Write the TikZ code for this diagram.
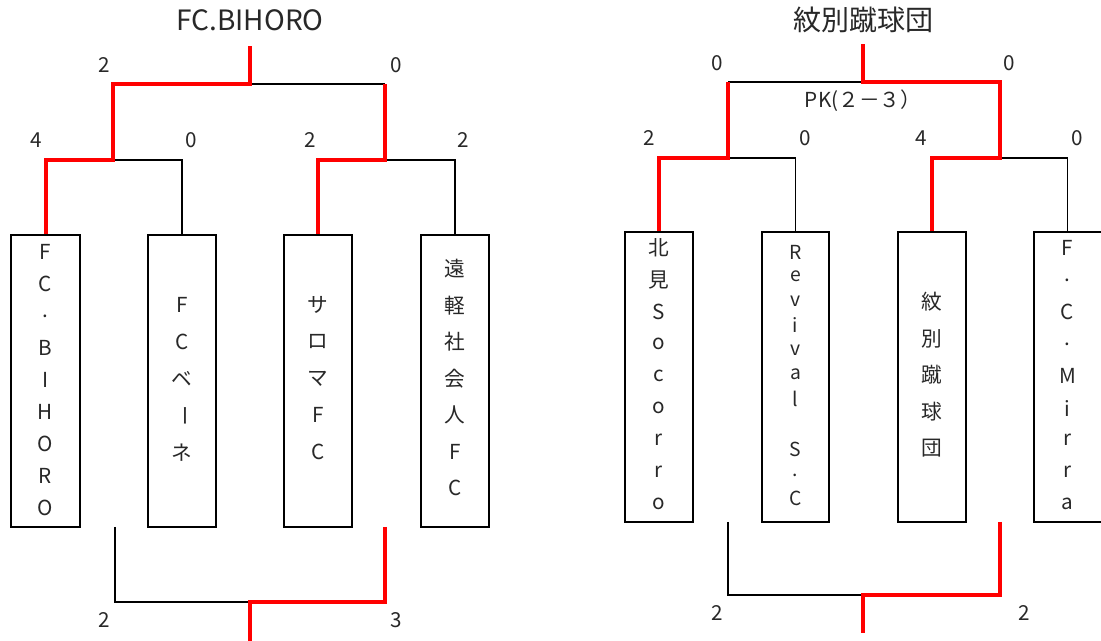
\documentclass[tikz,border=0pt]{standalone}
\usepackage{fontspec}
\setmainfont{Noto Sans CJK JP}
\definecolor{txt}{RGB}{40,40,40}
\definecolor{win}{RGB}{255,0,0}
\begin{document}
\begin{tikzpicture}[x=0.75pt,y=-0.75pt,
  teambox/.style={draw=black,line width=1.5pt,inner sep=0pt,fill=white},
  ch/.style={inner sep=0pt,text=txt,font=\fontsize{15.5}{17}\selectfont},
  chs/.style={inner sep=0pt,text=txt,font=\fontsize{14.5}{16}\selectfont},
  score/.style={inner sep=0pt,text=txt,font=\fontsize{15.5}{17}\selectfont},
  ttl/.style={inner sep=0pt,text=txt,font=\fontsize{21}{25}\selectfont},
  lose/.style={draw=black,line width=1.3pt},
  winline/.style={draw=win,line width=3pt}]
\useasboundingbox (0,0) rectangle (1101,641);
\fill[white] (0,0) rectangle (1101,641);

% ---------- left bracket coordinates
\coordinate (Ltop) at (250,46);
\coordinate (LtopJ) at (250,84);
\coordinate (LA) at (113,84);
\coordinate (LB) at (385,84);
\coordinate (LAj) at (113,160);
\coordinate (LBj) at (385,160);
\coordinate (L1) at (45.5,160);
\coordinate (L2) at (182,160);
\coordinate (L3) at (318,160);
\coordinate (L4) at (455,160);
\coordinate (LbA) at (115,527);
\coordinate (LbAc) at (115,602);
\coordinate (LbB) at (385,527);
\coordinate (LbBc) at (385,602);
\coordinate (LbJ) at (250,602);
\coordinate (LbEnd) at (250,641);

% ---------- left boxes
\node[teambox,minimum width=69*0.75pt,minimum height=292*0.75pt] (b1) at (45.5,381) {};
\node[teambox,minimum width=68*0.75pt,minimum height=292*0.75pt] (b2) at (182,381) {};
\node[teambox,minimum width=68*0.75pt,minimum height=292*0.75pt] (b3) at (318,381) {};
\node[teambox,minimum width=68*0.75pt,minimum height=292*0.75pt] (b4) at (455,381) {};

\foreach \c [count=\i from 0] in {F,C,.,B,I,H,O,R,O}
  \node[ch] (b1c\i) at (45.5,252+\i*32) {\c};
\foreach \c [count=\i from 0] in {F,C,ベ,{\rotatebox{-90}{ー}},ネ}
  \node[ch] (b2c\i) at (182,305+\i*36.8) {\c};
\foreach \c [count=\i from 0] in {サ,ロ,マ,F,C}
  \node[ch] (b3c\i) at (318,305+\i*36.8) {\c};
\foreach \c [count=\i from 0] in {遠,軽,社,会,人,F,C}
  \node[ch] (b4c\i) at (455,269+\i*36.5) {\c};

% left lines
\draw[lose] (LAj) -- (L2) -- (b2.north);
\draw[lose] (LBj) -- (L4) -- (b4.north);
\draw[lose] (LtopJ) -- (LB);
\draw[winline] (b1.north) -- (L1) -- (LAj) -- (LA) -- (LtopJ) -- (Ltop);
\draw[winline] (b3.north) -- (L3) -- (LBj) -- (LB);
\draw[lose] (LbA) -- (LbAc) -- (LbJ);
\draw[winline] (LbB) -- (LbBc) -- (LbJ) -- (LbEnd);

% left texts
\node[ttl] (t1) at (250,20) {FC.BIHORO};
\node[score] (s1) at (104,65) {2};
\node[score] (s2) at (396,65) {0};
\node[score] (s3) at (36,140) {4};
\node[score] (s4) at (191,140) {0};
\node[score] (s5) at (310,140) {2};
\node[score] (s6) at (463,140) {2};
\node[score] (s7) at (104,620) {2};
\node[score] (s8) at (396,620) {3};

% ---------- right bracket coordinates
\coordinate (Rtop) at (863,44);
\coordinate (RtopJ) at (863,82);
\coordinate (RA) at (728,82);
\coordinate (RB) at (1000,82);
\coordinate (RAj) at (728,158);
\coordinate (RBj) at (1000,158);
\coordinate (R1) at (659,158);
\coordinate (R2) at (795.5,158);
\coordinate (R3) at (932,158);
\coordinate (R4) at (1067.5,158);
\coordinate (RbA) at (728,522);
\coordinate (RbAc) at (728,595);
\coordinate (RbB) at (1000,522);
\coordinate (RbBc) at (1000,595);
\coordinate (RbJ) at (863,595);
\coordinate (RbEnd) at (863,633);

\node[teambox,minimum width=68*0.75pt,minimum height=290*0.75pt] (b5) at (659,377) {};
\node[teambox,minimum width=67*0.75pt,minimum height=290*0.75pt] (b6) at (795.5,377) {};
\node[teambox,minimum width=68*0.75pt,minimum height=290*0.75pt] (b7) at (932,377) {};
\node[teambox,minimum width=68*0.75pt,minimum height=290*0.75pt] (b8) at (1067.5,377) {};

\foreach \c [count=\i from 0] in {北,見,S,o,c,o,r,r,o}
  \node[ch] (b5c\i) at (659,248+\i*32) {\c};
\foreach \c [count=\i from 0] in {R,e,v,i,v,a,l}
  \node[chs] (b6c\i) at (795.5,252+\i*24.5) {\c};
\node[chs] (b6s) at (795.5,449) {S};
\node[chs] (b6d) at (795.5,475) {.};
\node[chs] (b6e) at (795.5,498) {C};
\foreach \c [count=\i from 0] in {紋,別,蹴,球,団}
  \node[ch] (b7c\i) at (932,302+\i*36.5) {\c};
\foreach \c [count=\i from 0] in {F,.,C,.,M,i,r,r,a}
  \node[ch] (b8c\i) at (1067.5,248+\i*32) {\c};

% right lines
\draw[lose] (RAj) -- (R2) -- (b6.north);
\draw[lose] (RBj) -- (R4) -- (b8.north);
\draw[lose] (RA) -- (RtopJ);
\draw[winline] (b5.north) -- (R1) -- (RAj) -- (RA);
\draw[winline] (b7.north) -- (R3) -- (RBj) -- (RB) -- (RtopJ) -- (Rtop);
\draw[lose] (RbA) -- (RbAc) -- (RbJ);
\draw[winline] (RbB) -- (RbBc) -- (RbJ) -- (RbEnd);

% right texts
\node[ttl] (t2) at (863,20) {紋別蹴球団};
\node[score] (r1) at (717,63) {0};
\node[score] (r2) at (1009,63) {0};
\node[score] (pk) at (863,101) {PK(２－３）};
\node[score] (r3) at (649,138) {2};
\node[score] (r4) at (805,138) {0};
\node[score] (r5) at (921,138) {4};
\node[score] (r6) at (1077,138) {0};
\node[score] (r7) at (717,613) {2};
\node[score] (r8) at (1024,613) {2};
\end{tikzpicture}
\end{document}
